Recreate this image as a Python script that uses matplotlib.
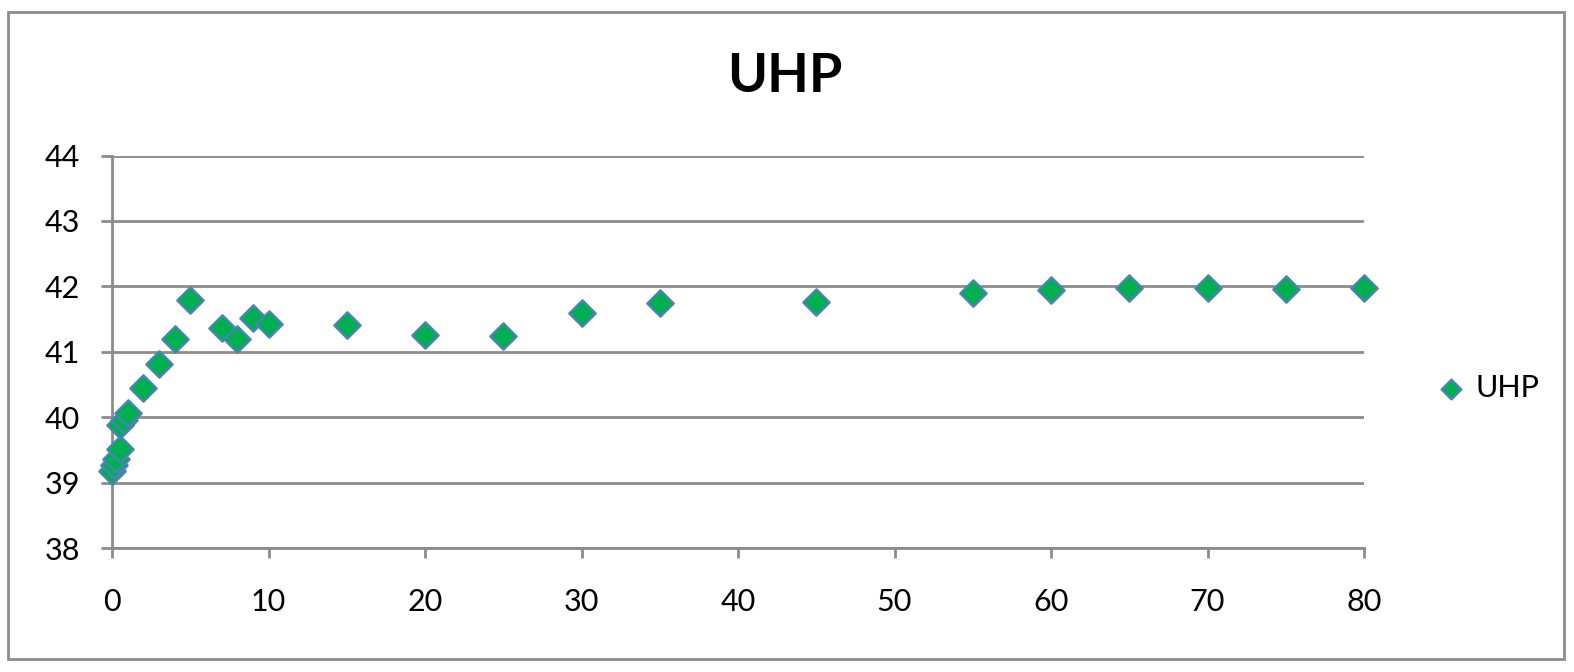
import numpy as np
import matplotlib
matplotlib.use("Agg")
import matplotlib.pyplot as plt
from matplotlib.patches import Rectangle

plt.rcParams['font.family'] = ['Lato', 'DejaVu Sans']

# data
time_x = [0, 0.15, 0.25, 0.5, 0.5, 0.75, 1, 2, 3, 4, 5, 7, 8, 9, 10,
          15, 20, 25, 30, 35, 45, 55, 60, 65, 70, 75, 80]
uhp_y = [39.17, 39.27, 39.36, 39.51, 39.88, 39.95, 40.06, 40.45, 40.82, 41.20,
         41.79, 41.37, 41.19, 41.51, 41.43,
         41.41, 41.25, 41.24, 41.60, 41.75, 41.76, 41.90, 41.94, 41.98,
         41.97, 41.96, 41.98]
x_ticks = [0, 10, 20, 30, 40, 50, 60, 70, 80]
y_ticks = [38, 39, 40, 41, 42, 43, 44]

W, H = 1574, 672
fig = plt.figure(figsize=(W / 100, H / 100), dpi=100)
ax = fig.add_axes([112 / W, 1 - 548 / H, (1364 - 112) / W, (548 - 155.5) / H])

grid_col = '#8c8c8c'
lw = 2.0

ax.scatter(time_x, uhp_y, marker='D', s=13.5 ** 2, facecolor='#00b050',
           edgecolor='#4f81bd', linewidth=1.6, zorder=3, label='UHP',
           clip_on=False)

ax.set_xlim(0, 80)
ax.set_ylim(38, 44)
ax.set_xticks(x_ticks)
ax.set_yticks(y_ticks)

ax.grid(axis='y', color=grid_col, linewidth=lw)
ax.set_axisbelow(True)
for s in ['top', 'right']:
    ax.spines[s].set_visible(False)
for s in ['left', 'bottom']:
    ax.spines[s].set_color(grid_col)
    ax.spines[s].set_linewidth(lw)

ax.tick_params(axis='x', direction='out', length=7, width=lw, color=grid_col,
               pad=22, labelsize=22)
ax.tick_params(axis='y', direction='out', length=8, width=lw, color=grid_col,
               pad=15, labelsize=22)

fig.text(785 / W, 1 - 76 / H, 'UHP', ha='center', va='center',
         fontsize=39, fontweight='bold')

fig.legend(loc='center left', bbox_to_anchor=(1436 / W, 1 - 388 / H),
           frameon=False, fontsize=22, handlelength=1.0, handletextpad=0.3,
           borderpad=0, borderaxespad=0, markerscale=0.75)

# outer chart border
fig.patches.append(Rectangle((8 / W, 1 - 659 / H), (1564 - 8) / W, (659 - 12) / H,
                             transform=fig.transFigure, fill=False,
                             edgecolor=grid_col, linewidth=lw))

fig.savefig('out.png', dpi=100)
